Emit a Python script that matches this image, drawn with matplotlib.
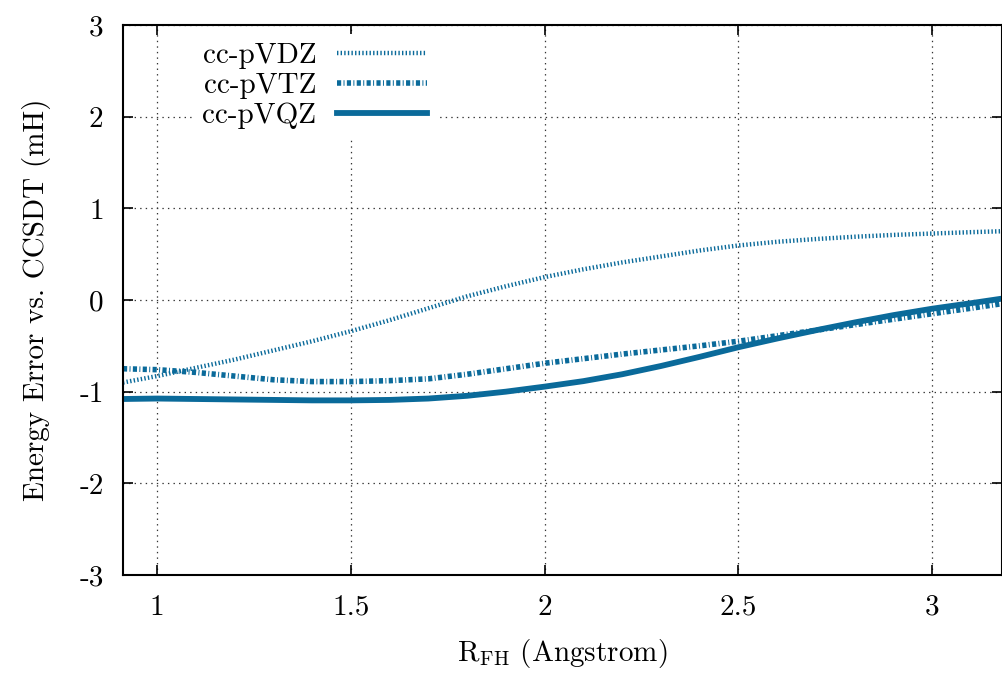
import numpy as np
import matplotlib
matplotlib.use("Agg")
import matplotlib.pyplot as plt

plt.rcParams['font.family'] = ['cmr10', 'DejaVu Serif']
plt.rcParams['mathtext.fontset'] = 'cm'
plt.rcParams['axes.unicode_minus'] = False
plt.rcParams['lines.scale_dashes'] = False

r = [0.912, 1.0, 1.1, 1.2, 1.3, 1.4, 1.5, 1.6, 1.7, 1.8, 1.9, 2.0, 2.1, 2.2,
     2.3, 2.4, 2.5, 2.6, 2.7, 2.8, 2.9, 3.0, 3.1, 3.18]
vdz = [-0.90, -0.83, -0.74, -0.65, -0.55, -0.45, -0.34, -0.22, -0.09, 0.04, 0.15,
       0.25, 0.335, 0.41, 0.475, 0.54, 0.595, 0.635, 0.665, 0.69, 0.71, 0.725, 0.74, 0.75]
vtz = [-0.75, -0.76, -0.79, -0.83, -0.87, -0.89, -0.89, -0.88, -0.86, -0.81, -0.75,
       -0.69, -0.64, -0.59, -0.545, -0.50, -0.45, -0.39, -0.33, -0.27, -0.21, -0.15,
       -0.09, -0.04]
vqz = [-1.08, -1.075, -1.08, -1.085, -1.09, -1.095, -1.095, -1.09, -1.075, -1.045, -1.00,
       -0.945, -0.885, -0.81, -0.72, -0.62, -0.515, -0.42, -0.33, -0.245, -0.165, -0.095,
       -0.035, 0.015]
labels = ["cc-pVDZ", "cc-pVTZ", "cc-pVQZ"]
xticks = [1, 1.5, 2, 2.5, 3]
xticklabels = ["1", "1.5", "2", "2.5", "3"]
yticks = [-3, -2, -1, 0, 1, 2, 3]
yticklabels = ["-3", "-2", "-1", "0", "1", "2", "3"]

color = '#0a6a9a'
FS = 21

fig = plt.figure(figsize=(10.02, 6.73), dpi=100)
ax = fig.add_axes([123/1002, 1-575/673, 1-123/1002, (575-25)/673])

ax.plot(r, vdz, color=color, lw=3.2, linestyle=(0, (1.0, 1.6)), label=labels[0])
ax.plot(r, vtz, color=color, lw=4.0, linestyle=(0, (3.0, 1.7, 0.7, 1.7)), label=labels[1])
ax.plot(r, vqz, color=color, lw=4.2, linestyle='-', label=labels[2])

ax.set_xlim(0.912, 3.18)
ax.set_ylim(-3, 3)
ax.set_xticks(xticks)
ax.set_xticklabels(xticklabels)
ax.set_yticks(yticks)
ax.set_yticklabels(yticklabels)
ax.tick_params(direction='in', top=True, right=True, length=7, width=1.2,
               labelsize=FS, pad=14)
ax.grid(True, color='#333333', linestyle=(0, (1, 3)), lw=0.9)
for s in ax.spines.values():
    s.set_linewidth(1.5)

ax.set_xlabel(r"R$_{\rm FH}$ (Angstrom)", fontsize=FS, labelpad=12)
ax.set_ylabel("Energy Error vs. CCSDT (mH)", fontsize=FS, labelpad=20)

leg = ax.legend(loc='upper right', bbox_to_anchor=((436-123)/879, 0.984), markerfirst=False,
                fontsize=FS, frameon=True, framealpha=1.0, edgecolor='none',
                facecolor='white', handlelength=3.1, handletextpad=0.7,
                labelspacing=0.12, borderpad=0.3, borderaxespad=0.0, fancybox=False)
for t in leg.get_texts():
    t.set_ha('right')

fig.savefig("out.png", dpi=100)
